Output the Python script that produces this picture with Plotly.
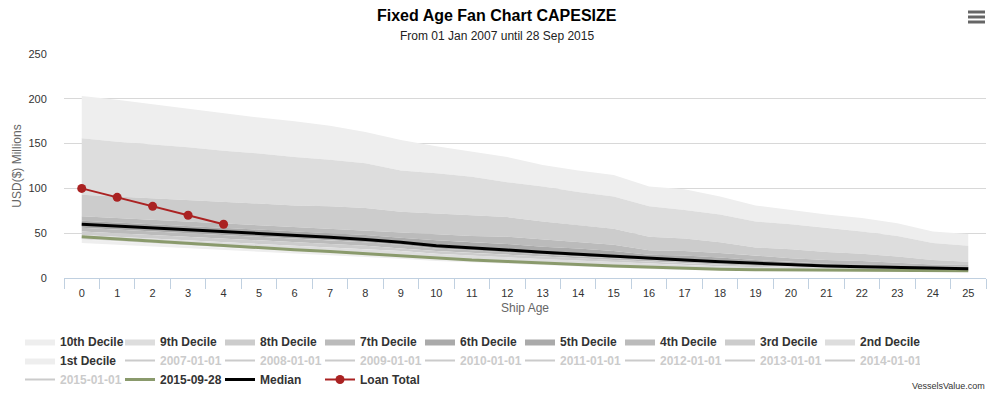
import plotly.graph_objects as go

ages = list(range(26))

# percentile boundaries (USD millions)
p100 = [203, 199, 194, 189, 184, 179, 175, 170, 163, 154, 147, 141, 135, 126, 120, 115, 102, 99, 91, 81, 76, 71, 67, 61, 52, 49]
p90 = [156, 152, 149, 146, 142, 139, 135, 132, 128, 120, 117, 113, 107, 102, 96, 91, 80, 76, 71, 63, 60, 56, 52, 47, 39, 36]
p80 = [93, 91, 89, 87, 85, 83, 81, 80, 78, 74, 72, 70, 68, 63, 59, 55, 46, 44, 40, 34, 32, 29, 27, 24, 20, 18]
p70 = [69, 67, 65, 63, 61, 59, 57, 55, 53, 51, 49, 47, 46, 43, 40, 37, 31, 30, 28, 25, 22, 20, 19, 17, 15, 14.5]
p60 = [64, 62, 60, 58, 56, 54, 52, 50, 48, 45, 42, 40, 38, 35, 33, 30, 26, 25, 23, 20, 18, 16, 15, 14, 13, 12.5]
median = [60, 58, 56, 54, 52, 50, 47.5, 45.5, 43, 40, 36, 34, 31.3, 28.7, 26.4, 24.5, 22, 20, 18.2, 16.4, 14.5, 13.4, 12.6, 11.9, 11.2, 10.4]
p40 = [56, 54, 52, 50, 48, 46, 44, 42, 40, 37, 33, 31, 28.5, 26, 24, 22, 20, 18, 16.5, 15, 13.5, 12.5, 11.8, 11.2, 10.6, 9.9]
p30 = [52, 50, 48, 46, 44, 42, 40, 38, 36, 33, 30, 28, 26, 24, 22, 20, 18, 16.5, 15, 13.5, 12.3, 11.6, 11, 10.5, 10, 9.5]
p20 = [48, 46, 44, 42, 40, 38, 36, 34, 32, 30, 27, 25, 23, 21, 19.5, 18, 16, 14.5, 13, 12, 11, 10.5, 10, 9.6, 9.3, 9]
p10 = [43, 41, 38.5, 36, 34, 32, 30, 28, 26, 24, 21, 19.5, 18, 16, 14.5, 13, 11.5, 10.5, 9.5, 9, 8.7, 8.5, 8.4, 8.3, 8.2, 8]
p0 = [39, 37, 35, 33, 31, 29.5, 27.5, 25.5, 23.5, 21.5, 19, 17.5, 16, 14.5, 13, 11.5, 10, 9, 8, 7.8, 7.6, 7.5, 7.4, 7.3, 7.2, 7]

latest = [46, 43.5, 41, 38.5, 36, 34, 31.5, 29.5, 27, 25, 22, 20, 18.5, 16.5, 15, 13.5, 12, 10.8, 9.8, 9.2, 8.9, 8.7, 8.6, 8.5, 8.4, 8.2]

loan_ages = [0, 1, 2, 3, 4]
loan_total = [100, 90, 80, 70, 60]

decile_names = ["10th Decile", "9th Decile", "8th Decile", "7th Decile", "6th Decile",
                "5th Decile", "4th Decile", "3rd Decile", "2nd Decile", "1st Decile"]
decile_colors = ["#EEEEEE", "#DDDDDD", "#CCCCCC", "#BBBBBB", "#AAAAAA",
                 "#AAAAAA", "#BBBBBB", "#CCCCCC", "#DDDDDD", "#EEEEEE"]
bounds = [p100, p90, p80, p70, p60, median, p40, p30, p20, p10, p0]

# series hidden in the reference legend (no visible data)
hidden_names = ["2007-01-01", "2008-01-01", "2009-01-01", "2010-01-01", "2011-01-01",
                "2012-01-01", "2013-01-01", "2014-01-01", "2015-01-01"]

fig = go.Figure()

for i, (nm, col) in enumerate(zip(decile_names, decile_colors)):
    hi = bounds[i]
    lo = bounds[i + 1]
    fig.add_trace(go.Scatter(
        x=ages + ages[::-1], y=hi + lo[::-1], fill="toself", fillcolor=col,
        line=dict(width=0, color=col), mode="lines", name=nm, hoverinfo="skip"))

for nm in hidden_names:
    fig.add_trace(go.Scatter(
        x=[None], y=[None], mode="lines", line=dict(color="#999999", width=2),
        name='<span style="color:#999999">' + nm + '</span>', visible="legendonly"))

fig.add_trace(go.Scatter(x=ages, y=latest, mode="lines", name="2015-09-28",
                         line=dict(color="#8A9A6C", width=3)))
fig.add_trace(go.Scatter(x=ages, y=median, mode="lines", name="Median",
                         line=dict(color="#000000", width=3)))
fig.add_trace(go.Scatter(x=loan_ages, y=loan_total, mode="lines+markers", name="Loan Total",
                         line=dict(color="#AA2222", width=2),
                         marker=dict(color="#AA2222", size=9)))

W, H = 995, 393
L, R, T, B = 64, 9, 54, 115
pw, ph = W - L - R, H - T - B

def px2paper(px, py):
    return (px - L) / pw, (H - B - py) / ph

shapes = []
for yy in [12, 17, 22]:
    x0, y0 = px2paper(968, yy)
    x1, _ = px2paper(985, yy)
    shapes.append(dict(type="line", xref="paper", yref="paper", x0=x0, x1=x1, y0=y0, y1=y0,
                       line=dict(color="#666666", width=3)))

cx, cy = px2paper(987, 386)
tx, ty = px2paper(497, 15)
sx, sy = px2paper(497, 36)
lx, ly = px2paper(20, 327)

fig.update_layout(
    width=W, height=H,
    margin=dict(l=L, r=R, t=T, b=B, autoexpand=False),
    paper_bgcolor="white", plot_bgcolor="white",
    font=dict(family="Liberation Sans, Arial, sans-serif", size=11, color="#333333"),
    xaxis=dict(range=[-0.5, 25.5], tickmode="array", tickvals=ages, ticktext=[str(a) for a in ages],
               showgrid=False, zeroline=False, showline=True, linecolor="#C0D0E0", linewidth=1,
               ticks="outside", ticklen=5, tickcolor="rgba(0,0,0,0)", tickfont=dict(size=11, color="#333333"),
               minor=dict(tick0=-0.5, dtick=1, ticks="outside", ticklen=10, tickcolor="#C0D0E0", showgrid=False),
               title=dict(text="Ship Age", font=dict(size=12, color="#666666"), standoff=5)),
    yaxis=dict(range=[0, 250], tickvals=[0, 50, 100, 150, 200, 250], showgrid=True,
               gridcolor="#D8D8D8", gridwidth=1, zeroline=False, showline=False,
               ticks="outside", ticklen=14, tickcolor="rgba(0,0,0,0)", tickfont=dict(size=11, color="#333333"),
               title=dict(text="USD($) Millions", font=dict(size=12, color="#666666"), standoff=4)),
    showlegend=True,
    legend=dict(orientation="h", x=lx, y=ly, xanchor="left", yanchor="top",
                font=dict(size=12, color="#333333", weight="bold"),
                entrywidth=55, entrywidthmode="pixels", tracegroupgap=0,
                itemclick=False, itemdoubleclick=False),
    shapes=shapes,
    annotations=[
        dict(text="<b>Fixed Age Fan Chart CAPESIZE</b>", xref="paper", yref="paper", x=tx, y=ty,
             xanchor="center", yanchor="middle", showarrow=False,
             font=dict(size=16, color="#000000")),
        dict(text="From 01 Jan 2007 until 28 Sep 2015", xref="paper", yref="paper", x=sx, y=sy,
             xanchor="center", yanchor="middle", showarrow=False,
             font=dict(size=12, color="#222222")),
        dict(text="VesselsValue.com", xref="paper", yref="paper", x=cx, y=cy,
             xanchor="right", yanchor="middle", showarrow=False,
             font=dict(size=9, color="#333333")),
    ],
)

fig.write_html("out.html", config={"displayModeBar": False})

with open("out.html", "r", encoding="utf-8") as f:
    html = f.read()
html = html.replace("<head>", "<head><style>html,body{margin:0;padding:0;overflow:hidden;}</style>", 1)
with open("out.html", "w", encoding="utf-8") as f:
    f.write(html)
